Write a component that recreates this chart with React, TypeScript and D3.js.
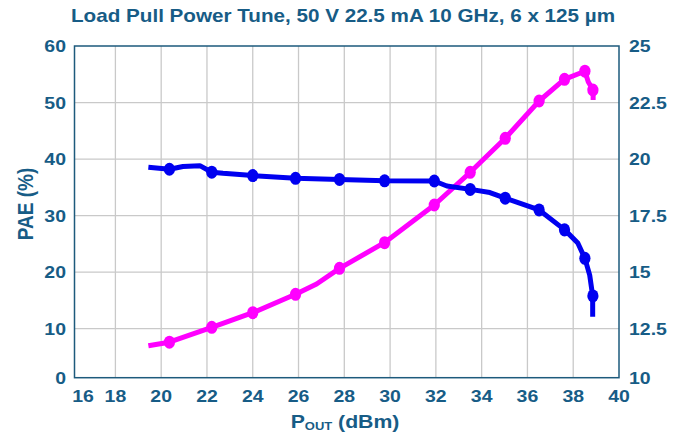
import React from "react";
import * as d3 from "d3";

// ---- Data ----
const xTicks = [16, 18, 20, 22, 24, 26, 28, 30, 32, 34, 36, 38, 40];
const paeTicks = [0, 10, 20, 30, 40, 50, 60];
const gainTicks = ["10", "12.5", "15", "17.5", "20", "22.5", "25"];

// PAE (%) curve, left axis
const paePout = [19.44, 20.35, 22.21, 24.0, 25.87, 26.79, 27.79, 29.75, 31.93, 33.5, 35.03, 36.51, 37.61, 38.51, 38.66, 38.87, 38.87];
const paeValues = [6.53, 7.24, 10.25, 12.83, 16.08, 17.9, 20.68, 25.21, 31.88, 37.66, 43.68, 50.27, 54.11, 55.54, 53.63, 52.22, 50.45];

// Gain (dB) curve, right axis
const gainPout = [19.44, 20.37, 20.95, 21.69, 22.21, 22.7, 24.0, 25.87, 27.79, 29.77, 31.93, 32.48, 33.51, 34.36, 35.03, 36.1, 36.51, 37.63, 38.2, 38.51, 38.72, 38.85, 38.85];
const gainValues = [19.64, 19.55, 19.67, 19.71, 19.42, 19.37, 19.27, 19.15, 19.1, 19.04, 19.03, 18.81, 18.66, 18.52, 18.27, 17.9, 17.75, 16.87, 16.29, 15.61, 14.87, 13.95, 13.03];

// Marker points
const markerPout = [20.36, 22.21, 24.0, 25.87, 27.79, 29.76, 31.93, 33.5, 35.03, 36.51, 37.62, 38.51, 38.86];
const markerPae = [7.24, 10.25, 12.83, 16.08, 20.68, 25.21, 31.88, 37.66, 43.68, 50.27, 54.11, 55.54, 52.22];
const markerGain = [19.55, 19.42, 19.27, 19.15, 19.1, 19.04, 19.03, 18.66, 18.27, 17.75, 16.87, 15.61, 13.95];

const TEXT = "#175c86";
const FRAME = "#1d5a7c";
const GRID = "#c9c9c9";
const MAGENTA = "#ff00ff";
const BLUE = "#0000f0";
const FONT = "'Liberation Sans', Arial, Helvetica, sans-serif";
const SX = 1.18;

const L = 74.5, R = 619, T = 46, B = 377.7;

const x = d3.scaleLinear().domain([16, 18, 40]).range([L, 115.4, R]);
const yL = d3.scaleLinear().domain([0, 10, 60]).range([B, 328.7, T]);
const yR = d3.scaleLinear().domain([10, 12.5, 25]).range([B, 328.7, T]);

function SText({ x: tx, y: ty, anchor = "start", size, children, sx = SX }: any) {
  return (
    <text
      transform={`translate(${tx},${ty}) scale(${sx},1)`}
      textAnchor={anchor}
      fontFamily={FONT}
      fontWeight="bold"
      fontSize={size}
      fill={TEXT}
    >
      {children}
    </text>
  );
}

export default function App() {
  const paePts: [number, number][] = paePout.map((p, i) => [x(p), yL(paeValues[i])]);
  const gainPts: [number, number][] = gainPout.map((p, i) => [x(p), yR(gainValues[i])]);
  const line = d3.line();
  const diamond = d3.symbol().type(d3.symbolCircle).size(110);
  return (
    <svg width={683} height={433} style={{ position: "absolute", left: 0, top: 0, background: "#fff" }}>
      {/* grid */}
      {xTicks.slice(1, -1).map((t) => (
        <line key={"gx" + t} x1={x(t)} x2={x(t)} y1={T} y2={B} stroke={GRID} strokeWidth={1.3} />
      ))}
      {paeTicks.slice(1, -1).map((t) => (
        <line key={"gy" + t} x1={L} x2={R} y1={yL(t)} y2={yL(t)} stroke={GRID} strokeWidth={1.3} />
      ))}
      <rect x={L} y={T} width={R - L} height={B - T} fill="none" stroke={FRAME} strokeWidth={1.5} />

      {/* curves */}
      <path d={line(paePts) || ""} fill="none" stroke={MAGENTA} strokeWidth={5} strokeLinejoin="round" />
      <path d={line(gainPts) || ""} fill="none" stroke={BLUE} strokeWidth={5} strokeLinejoin="round" />
      {markerPout.map((p, i) => (
        <path key={"mp" + i} d={diamond() || ""} transform={`translate(${x(p)},${yL(markerPae[i])}) scale(0.95,1.1)`} fill={MAGENTA} />
      ))}
      {markerPout.map((p, i) => (
        <path key={"mg" + i} d={diamond() || ""} transform={`translate(${x(p)},${yR(markerGain[i])}) scale(0.95,1.1)`} fill={BLUE} />
      ))}

      {/* title */}
      <SText x={343} y={22} anchor="middle" size={17.5}>
        Load Pull Power Tune, 50 V 22.5 mA 10 GHz, 6 x 125 µm
      </SText>

      {/* left ticks */}
      {paeTicks.map((t) => (
        <SText key={"ly" + t} x={66} y={yL(t) + 6} anchor="end" size={16.5}>
          {t}
        </SText>
      ))}
      {/* right ticks */}
      {gainTicks.map((t) => (
        <SText key={"ry" + t} x={629} y={yR(+t) + 6} anchor="start" size={16.5}>
          {t}
        </SText>
      ))}
      {/* bottom ticks */}
      {xTicks.map((t) => (
        <SText key={"bx" + t} x={t === 16 ? 83 : x(t)} y={402} anchor="middle" size={16.5}>
          {t}
        </SText>
      ))}

      {/* axis titles */}
      <text
        transform={`translate(33,204) rotate(-90) scale(1,${SX})`}
        textAnchor="middle"
        fontFamily={FONT}
        fontWeight="bold"
        fontSize={19}
        fill={TEXT}
      >
        PAE (%)
      </text>
      <SText x={345} y={428} anchor="middle" size={18}>
        P<tspan fontSize={11} dy={2}>OUT</tspan>
        <tspan dy={-2}> (dBm)</tspan>
      </SText>
    </svg>
  );
}
